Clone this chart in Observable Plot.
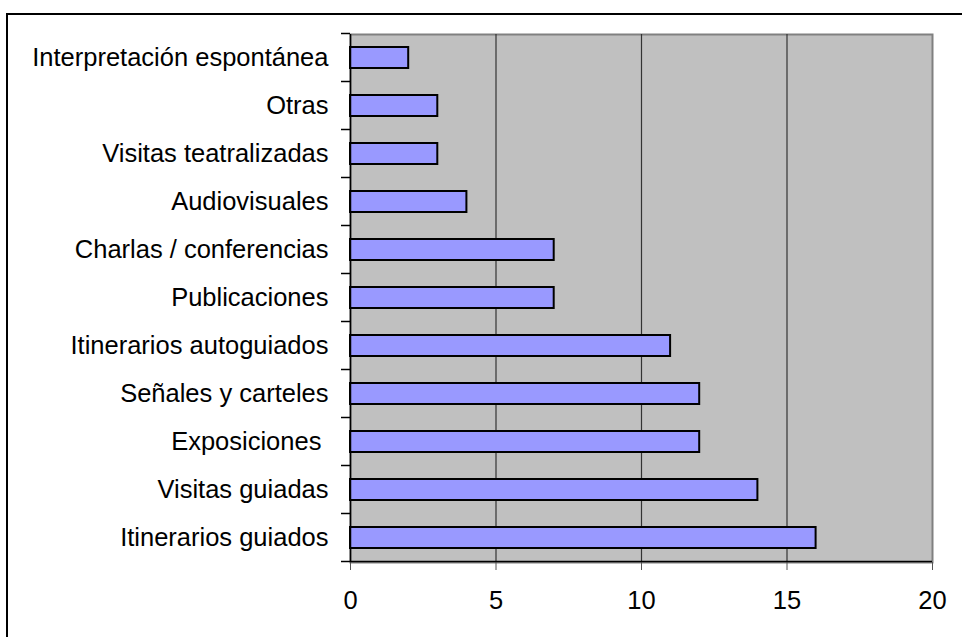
<!DOCTYPE html>
<html>
<head>
<meta charset="utf-8">
<script src="https://cdn.jsdelivr.net/npm/d3@7"></script>
<script src="https://cdn.jsdelivr.net/npm/@observablehq/plot@0.6"></script>
<style>
  html, body { margin: 0; padding: 0; background: #fff; }
  #wrap { position: relative; width: 962px; height: 637px; overflow: hidden; }
  #border { position: absolute; left: 6px; top: 13px; width: 980px; height: 660px;
            border: 2px solid #000; pointer-events: none; box-sizing: border-box; }
  #wrap svg text { white-space: pre; }
</style>
</head>
<body>
<div id="wrap"><div id="border"></div></div>
<script>
const categories = [
  "Interpretación espontánea",
  "Otras",
  "Visitas teatralizadas",
  "Audiovisuales",
  "Charlas / conferencias",
  "Publicaciones",
  "Itinerarios autoguiados",
  "Señales y carteles",
  "Exposiciones ",
  "Visitas guiadas",
  "Itinerarios guiados"
];
const values = [2, 3, 3, 4, 7, 7, 11, 12, 12, 14, 16];
const xTicks = [0, 5, 10, 15, 20];
const gridValues = [5, 10, 15];

const data = categories.map((c, i) => ({category: c, value: values[i]}));

const chart = Plot.plot({
  width: 962,
  height: 637,
  marginLeft: 350,
  marginRight: 30,
  marginTop: 34,
  marginBottom: 75,
  style: {fontFamily: "'Liberation Sans', Arial, sans-serif", fontSize: "25.5px", color: "#000", background: "transparent"},
  x: {domain: [0, 20], ticks: xTicks},
  y: {domain: categories, paddingInner: 0.56, paddingOuter: 0.28},
  marks: [
    Plot.frame({fill: "#c0c0c0", stroke: "#808080", strokeWidth: 2}),
    Plot.ruleX(gridValues, {stroke: "#333", strokeWidth: 1.2}),
    Plot.barX(data, {y: "category", x: "value", fill: "#9999ff", stroke: "#000", strokeWidth: 2}),
    Plot.ruleX([0], {stroke: "#000", strokeWidth: 1.5}),
    Plot.axisX({ticks: xTicks, tickSize: 8, tickPadding: 20, fontSize: 25.5, label: null, stroke: "#555"}),
    Plot.axisY({tickSize: 0, tickPadding: 22, fontSize: 25.5, label: null})
  ]
});

document.getElementById("wrap").prepend(chart);

// Category ticks sit on the band boundaries, left of the plot area.
const ys = chart.scale("y");
const xs = chart.scale("x");
const x0 = xs.apply(0);
const gap = (ys.step - ys.bandwidth) / 2;
const bounds = categories.map(c => ys.apply(c) - gap);
bounds.push(ys.apply(categories[categories.length - 1]) + ys.bandwidth + gap);
const g = d3.select(chart).append("g");
g.selectAll("line.cat").data(bounds).join("line")
  .attr("x1", x0 - 9).attr("x2", x0)
  .attr("y1", d => d).attr("y2", d => d)
  .attr("stroke", "#000").attr("stroke-width", 1.5);
// bottom axis line
g.append("line")
  .attr("x1", x0).attr("x2", xs.apply(20))
  .attr("y1", bounds[bounds.length - 1]).attr("y2", bounds[bounds.length - 1])
  .attr("stroke", "#000").attr("stroke-width", 1.5);
</script>
</body>
</html>
